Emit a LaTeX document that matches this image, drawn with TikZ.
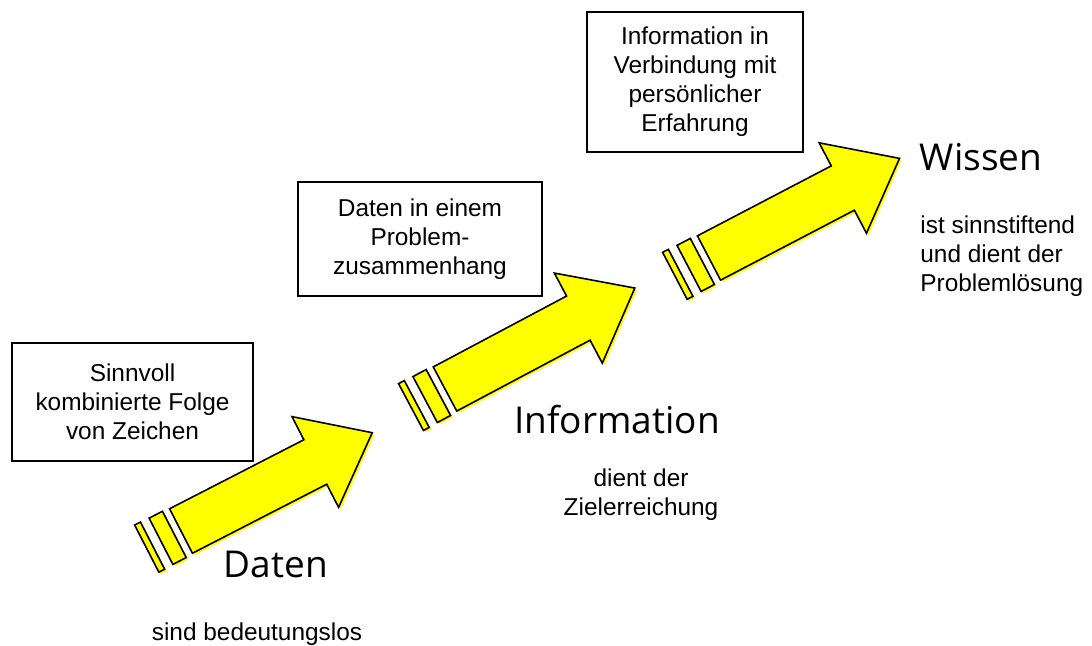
\documentclass[tikz,border=0pt]{standalone}
\usepackage{fontspec}
\setmainfont{Liberation Sans}
\newfontfamily\kopffont{Open Sans}
\usetikzlibrary{positioning}
\definecolor{pfeilgelb}{RGB}{255,255,0}
\tikzset{
    kasten/.style={draw,line width=0.9pt,align=center,inner sep=0pt,font=\fontsize{12.2}{14.5}\selectfont},
    titel/.style={font=\kopffont\fontsize{18.5}{22}\selectfont,inner sep=0pt},
    notiz/.style={font=\fontsize{12.2}{14.5}\selectfont,inner sep=0pt},
    pfeilform/.style={insert path={
        (0,-25) -- (151,-25) -- (151,-51) -- (215,0) -- (151,51) -- (151,25) -- (0,25) -- cycle
        (-22.5,-26) rectangle (-7.5,26)
        (-38.5,-26.5) rectangle (-32,26.5)}},
    pfeilschatten/.style={fill=pfeilgelb,draw=none,shift={(1,2.7)}},
    pfeilrand/.style={fill=pfeilgelb,draw=black,line width=0.8pt,line join=miter},
}

\begin{document}
\begin{tikzpicture}[x=0.5pt,y=-0.5pt]
    \useasboundingbox (0,0) rectangle (1092,646);
    % Stufen: Daten -> Information -> Wissen
    \foreach \px/\py/\w in {181/531/27.2, 445/389/28, 709/258/27.6}{
        \begin{scope}[shift={(\px,\py)},rotate=\w]
            \fill [pfeilschatten,pfeilform];
            \filldraw [pfeilrand,pfeilform];
        \end{scope}
    }
    \node [kasten,minimum width=120.5pt,minimum height=59pt] (k1) at (132.5,402) {Sinnvoll\\kombinierte Folge\\von Zeichen};
    \node [kasten,minimum width=122pt,minimum height=57pt] (k2) at (420,239) {Daten in einem\\Problem-\\zusammenhang};
    \node [kasten,minimum width=108pt,minimum height=70pt] (k3) at (695,82) {Information in\\Verbindung mit\\persönlicher\\Erfahrung};
    \node [titel] (daten) at (276,564) {Daten};
    \node [notiz] (dtext) at (257,634) {sind bedeutungslos};
    \node [titel] (info) at (617,420) {Information};
    \node [notiz,align=center] (itext) at (641,495) {dient der\\Zielerreichung};
    \node [titel] (wissen) at (981,157) {Wissen};
    \node [notiz,align=left,anchor=west] (wtext) at (920,256) {ist sinnstiftend\\und dient der\\Problemlösung};
\end{tikzpicture}
\end{document}
